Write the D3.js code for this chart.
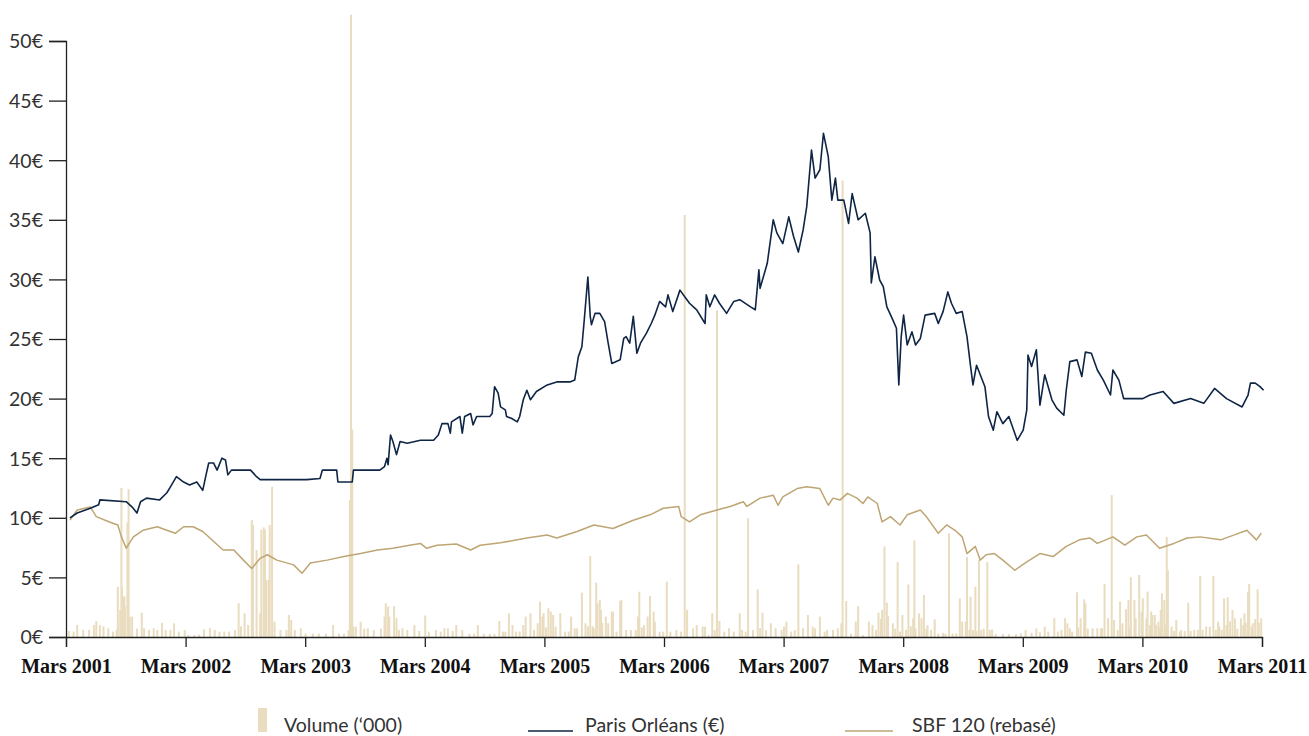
<!DOCTYPE html>
<html><head><meta charset="utf-8">
<script src="https://cdn.jsdelivr.net/npm/d3@7"></script>
<style>
html,body{margin:0;padding:0;background:#fff;}
svg{display:block;}
.ylab{font-family:"Lato","Open Sans",sans-serif;font-weight:400;font-size:19.5px;fill:#333;}
.xlab{font-family:"Liberation Serif","Times New Roman",serif;font-weight:bold;font-size:20px;fill:#111;}
.leg{font-family:"Lato","Open Sans",sans-serif;font-weight:400;font-size:19.5px;fill:#333;}
</style></head>
<body>
<svg id="chart" width="1309" height="736"></svg>
<script>
// ---- Data (decimal years, values in €) ----
const yTickValues = [0,5,10,15,20,25,30,35,40,45,50];
const xTickYears = [2001,2002,2003,2004,2005,2006,2007,2008,2009,2010,2011];

const poDates = [2001.20,2001.26,2001.37,2001.44,2001.45,2001.67,2001.72,2001.76,2001.79,2001.84,2001.95,2002.01,2002.04,2002.09,2002.15,2002.20,2002.26,2002.31,2002.34,2002.36,2002.40,2002.43,2002.47,2002.50,2002.52,2002.55,2002.71,2002.76,2002.79,2002.93,2003.07,2003.18,2003.29,2003.31,2003.43,2003.44,2003.56,2003.57,2003.79,2003.83,2003.85,2003.86,2003.88,2003.90,2003.93,2003.96,2004.02,2004.13,2004.24,2004.28,2004.31,2004.36,2004.38,2004.39,2004.46,2004.48,2004.50,2004.55,2004.57,2004.60,2004.71,2004.73,2004.75,2004.78,2004.80,2004.84,2004.85,2004.89,2004.94,2004.96,2004.99,2005.02,2005.05,2005.10,2005.19,2005.27,2005.38,2005.42,2005.45,2005.48,2005.50,2005.53,2005.55,2005.56,2005.59,2005.63,2005.67,2005.70,2005.73,2005.80,2005.83,2005.85,2005.88,2005.91,2005.94,2005.97,2006.02,2006.06,2006.09,2006.13,2006.18,2006.20,2006.24,2006.30,2006.34,2006.38,2006.44,2006.51,2006.52,2006.55,2006.59,2006.63,2006.69,2006.75,2006.80,2006.89,2006.93,2006.96,2006.97,2007.03,2007.08,2007.11,2007.16,2007.21,2007.25,2007.29,2007.33,2007.36,2007.40,2007.43,2007.47,2007.50,2007.54,2007.57,2007.60,2007.62,2007.67,2007.71,2007.74,2007.79,2007.85,2007.89,2007.90,2007.93,2007.97,2008.00,2008.03,2008.08,2008.11,2008.13,2008.15,2008.17,2008.20,2008.24,2008.27,2008.31,2008.35,2008.43,2008.46,2008.50,2008.54,2008.57,2008.61,2008.66,2008.70,2008.73,2008.75,2008.78,2008.85,2008.88,2008.92,2008.95,2009.00,2009.05,2009.12,2009.17,2009.20,2009.21,2009.24,2009.28,2009.31,2009.35,2009.41,2009.45,2009.51,2009.53,2009.56,2009.62,2009.66,2009.69,2009.74,2009.79,2009.84,2009.90,2009.92,2009.97,2010.01,2010.17,2010.23,2010.34,2010.43,2010.57,2010.68,2010.77,2010.87,2011.00,2011.05,2011.07,2011.11,2011.15,2011.18];
const poValues = [10.0,10.4,10.8,11.1,11.5,11.35,10.9,10.4,11.35,11.65,11.5,12.1,12.6,13.45,13.0,12.75,13.0,12.3,13.7,14.6,14.6,14.0,15.0,14.85,13.6,14.0,14.0,13.45,13.2,13.2,13.2,13.2,13.3,14.0,14.0,13.0,13.0,14.0,14.0,14.3,15.0,14.45,16.95,16.4,15.3,16.4,16.25,16.5,16.5,16.95,17.9,17.9,17.1,18.05,18.5,17.1,18.5,18.75,17.8,18.5,18.5,18.75,21.0,20.45,19.3,19.05,18.5,18.35,18.05,18.5,19.9,20.7,19.9,20.6,21.15,21.4,21.4,21.55,23.5,24.35,26.6,30.2,26.9,26.2,27.15,27.15,26.45,24.65,22.95,23.25,25.05,25.2,24.65,26.9,23.8,24.65,25.5,26.3,27.0,28.15,27.7,28.7,27.3,29.1,28.55,28.0,27.45,26.3,28.7,27.7,28.7,28.0,27.15,28.15,28.3,27.7,27.45,30.8,29.25,31.35,35.0,33.9,33.0,35.25,33.6,32.3,34.15,36.1,40.85,38.5,39.2,42.25,40.3,36.65,38.5,36.65,36.65,34.7,37.2,35.0,35.55,33.9,29.7,31.9,29.95,29.4,27.7,26.6,25.9,21.15,25.2,27.0,24.5,25.6,24.5,25.05,27.0,27.15,26.3,27.3,28.95,28.0,27.15,27.3,25.2,22.7,21.15,22.8,21.0,18.5,17.35,18.9,17.9,18.5,16.5,17.35,19.05,23.65,22.7,24.1,19.45,22.0,19.9,19.2,18.6,20.7,23.1,23.25,21.85,23.9,23.8,22.4,21.55,20.3,22.4,21.55,20.0,20.0,20.3,20.6,19.6,20.0,19.6,20.85,20.0,19.3,20.3,21.3,21.3,21.0,20.7];

const sbfDates = [2001.20,2001.26,2001.37,2001.42,2001.53,2001.60,2001.63,2001.67,2001.73,2001.81,2001.93,2002.01,2002.08,2002.15,2002.23,2002.31,2002.37,2002.48,2002.57,2002.65,2002.72,2002.79,2002.85,2002.93,2003.07,2003.14,2003.21,2003.35,2003.49,2003.63,2003.77,2003.90,2004.04,2004.13,2004.18,2004.27,2004.43,2004.55,2004.63,2004.80,2005.02,2005.19,2005.27,2005.44,2005.58,2005.74,2005.91,2006.05,2006.16,2006.29,2006.31,2006.38,2006.47,2006.61,2006.72,2006.83,2006.86,2006.97,2007.08,2007.12,2007.16,2007.28,2007.36,2007.47,2007.54,2007.58,2007.64,2007.70,2007.78,2007.83,2007.87,2007.95,2007.99,2008.06,2008.14,2008.20,2008.31,2008.36,2008.46,2008.53,2008.60,2008.66,2008.70,2008.77,2008.81,2008.86,2008.93,2009.00,2009.10,2009.20,2009.31,2009.42,2009.53,2009.64,2009.73,2009.79,2009.92,2010.02,2010.12,2010.20,2010.31,2010.43,2010.54,2010.65,2010.82,2010.93,2011.04,2011.12,2011.16];
const sbfValues = [9.8,10.65,10.9,10.1,9.65,9.4,8.4,7.45,8.4,8.95,9.25,8.95,8.7,9.25,9.25,8.85,8.3,7.3,7.3,6.45,5.75,6.6,6.9,6.45,6.05,5.35,6.2,6.45,6.75,7.0,7.3,7.45,7.7,7.85,7.45,7.7,7.8,7.3,7.7,7.9,8.3,8.55,8.3,8.85,9.4,9.1,9.8,10.25,10.8,10.95,10.1,9.65,10.25,10.65,10.95,11.35,10.95,11.65,11.9,11.05,11.75,12.45,12.6,12.45,11.05,11.65,11.5,12.05,11.65,11.2,11.75,11.2,9.65,10.1,9.4,10.25,10.65,10.1,8.7,9.4,8.95,8.4,7.0,7.6,6.45,6.9,7.0,6.45,5.6,6.3,7.0,6.75,7.6,8.15,8.3,7.85,8.4,7.7,8.4,8.55,7.45,7.85,8.3,8.4,8.15,8.55,8.95,8.15,8.7];

const volDates = [2001.19,2001.23,2001.26,2001.31,2001.36,2001.40,2001.42,2001.45,2001.48,2001.52,2001.56,2001.59,2001.60,2001.62,2001.63,2001.635,2001.645,2001.655,2001.66,2001.68,2001.69,2001.70,2001.72,2001.76,2001.80,2001.82,2001.86,2001.90,2001.93,2001.97,2002.00,2002.04,2002.07,2002.11,2002.16,2002.19,2002.24,2002.28,2002.32,2002.37,2002.41,2002.45,2002.49,2002.53,2002.58,2002.61,2002.63,2002.66,2002.69,2002.72,2002.73,2002.76,2002.79,2002.80,2002.82,2002.83,2002.84,2002.86,2002.87,2002.89,2002.91,2002.96,2003.01,2003.03,2003.05,2003.08,2003.13,2003.17,2003.23,2003.28,2003.34,2003.40,2003.45,2003.49,2003.53,2003.54,2003.55,2003.56,2003.57,2003.59,2003.63,2003.66,2003.69,2003.74,2003.80,2003.83,2003.84,2003.86,2003.87,2003.91,2003.93,2003.95,2003.98,2004.02,2004.08,2004.12,2004.17,2004.20,2004.26,2004.30,2004.33,2004.36,2004.40,2004.43,2004.48,2004.54,2004.58,2004.61,2004.66,2004.71,2004.75,2004.79,2004.82,2004.84,2004.87,2004.90,2004.93,2004.96,2004.99,2005.01,2005.05,2005.08,2005.11,2005.13,2005.15,2005.16,2005.18,2005.20,2005.22,2005.24,2005.26,2005.30,2005.34,2005.37,2005.39,2005.42,2005.44,2005.48,2005.51,2005.53,2005.55,2005.57,2005.58,2005.60,2005.61,2005.63,2005.64,2005.65,2005.68,2005.70,2005.73,2005.74,2005.77,2005.80,2005.81,2005.85,2005.89,2005.93,2005.95,2005.96,2005.98,2006.00,2006.03,2006.05,2006.08,2006.09,2006.13,2006.16,2006.19,2006.22,2006.27,2006.31,2006.34,2006.36,2006.41,2006.44,2006.49,2006.51,2006.54,2006.57,2006.59,2006.61,2006.63,2006.67,2006.71,2006.75,2006.80,2006.82,2006.85,2006.87,2006.91,2006.95,2006.97,2006.99,2007.02,2007.06,2007.10,2007.15,2007.17,2007.19,2007.23,2007.26,2007.29,2007.33,2007.37,2007.41,2007.43,2007.47,2007.51,2007.53,2007.58,2007.62,2007.65,2007.66,2007.69,2007.73,2007.77,2007.79,2007.83,2007.88,2007.91,2007.94,2007.96,2007.98,2007.99,2008.01,2008.03,2008.04,2008.08,2008.10,2008.12,2008.14,2008.16,2008.19,2008.21,2008.23,2008.25,2008.26,2008.27,2008.30,2008.32,2008.34,2008.36,2008.37,2008.40,2008.43,2008.46,2008.50,2008.52,2008.55,2008.58,2008.61,2008.64,2008.66,2008.69,2008.70,2008.72,2008.73,2008.75,2008.77,2008.78,2008.80,2008.82,2008.84,2008.87,2008.89,2008.91,2008.94,2009.00,2009.05,2009.11,2009.15,2009.19,2009.24,2009.28,2009.31,2009.35,2009.38,2009.43,2009.46,2009.49,2009.52,2009.54,2009.56,2009.58,2009.62,2009.63,2009.65,2009.68,2009.69,2009.71,2009.75,2009.79,2009.82,2009.83,2009.85,2009.88,2009.91,2009.93,2009.96,2009.98,2010.00,2010.03,2010.05,2010.06,2010.07,2010.10,2010.11,2010.14,2010.16,2010.17,2010.20,2010.21,2010.23,2010.24,2010.25,2010.27,2010.28,2010.30,2010.31,2010.32,2010.33,2010.35,2010.36,2010.37,2010.38,2010.41,2010.43,2010.45,2010.48,2010.49,2010.52,2010.55,2010.57,2010.60,2010.63,2010.65,2010.67,2010.70,2010.73,2010.76,2010.78,2010.80,2010.81,2010.83,2010.85,2010.87,2010.88,2010.90,2010.92,2010.94,2010.96,2010.99,2011.01,2011.02,2011.03,2011.05,2011.06,2011.08,2011.09,2011.11,2011.13,2011.14,2011.16];
const volValues = [0.5,0.45,1.0,0.6,0.6,1.0,1.34,1.0,0.9,0.73,0.45,0.6,4.22,2.27,12.5,4.2,3.4,3.4,2.55,9.6,12.4,1.71,1.71,0.7,2.04,0.73,0.6,0.73,0.6,1.2,0.6,0.6,1.15,0.45,0.6,0.17,0.17,0.2,0.64,0.73,0.59,0.45,0.45,0.45,0.59,2.83,0.9,1.99,1.0,9.8,9.4,7.3,1.99,9.0,9.2,9.0,4.8,4.8,9.4,12.6,1.29,0.59,0.59,1.85,1.43,0.59,0.73,0.28,0.28,0.28,0.28,1.0,0.28,0.28,0.59,11.5,52.2,17.4,0.87,0.87,1.29,0.7,0.73,0.59,0.7,1.71,2.83,2.55,1.71,2.6,1.57,0.6,0.73,0.59,1.0,0.5,1.8,0.45,0.59,0.45,0.73,0.73,0.5,1.0,0.59,0.28,0.28,1.0,0.25,0.25,0.25,1.34,0.45,0.45,1.99,1.0,0.45,0.45,1.0,1.71,1.99,0.59,1.15,2.97,1.71,1.99,0.8,2.4,2.13,1.85,0.87,1.99,0.45,0.45,1.71,0.73,0.73,3.72,1.15,0.9,6.8,0.9,0.73,4.56,2.83,3.1,2.27,1.2,1.71,1.15,2.13,2.13,0.45,3.02,3.1,0.59,0.59,0.59,1.71,3.8,0.8,1.0,1.71,3.44,2.13,1.29,0.45,0.45,4.64,0.45,0.59,0.45,35.4,2.27,0.73,1.0,0.87,0.87,0.17,1.99,0.59,27.4,1.34,0.45,0.73,0.45,1.99,0.59,0.45,9.95,0.59,4.0,0.73,2.04,0.59,1.15,0.73,0.59,0.87,1.29,0.45,0.59,6.1,0.73,1.85,0.87,0.73,1.71,0.45,0.59,0.59,0.73,1.15,38.3,3.02,0.28,1.29,2.6,0.17,1.29,1.0,0.6,2.04,1.5,2.27,7.6,2.88,1.76,1.15,0.7,6.3,0.45,1.85,0.6,4.4,0.9,1.57,8.1,0.7,1.99,1.57,3.52,0.7,1.0,0.6,1.48,0.28,0.35,0.28,8.7,0.28,0.3,3.24,1.29,1.29,6.7,0.6,3.38,0.6,4.22,0.5,6.45,0.59,0.7,6.3,0.6,0.64,0.25,0.25,0.25,0.25,0.3,0.59,0.35,0.73,0.4,0.87,0.45,1.57,0.45,0.6,1.57,1.15,0.73,0.45,3.75,0.8,1.57,3.16,2.83,0.7,0.73,0.73,0.73,0.73,4.45,1.57,11.9,1.43,0.6,2.97,1.15,2.32,3.1,0.8,5.01,3.1,1.57,5.2,2.13,3.24,1.57,3.8,1.0,2.13,1.85,1.85,1.0,1.29,0.8,2.27,3.66,3.1,1.0,8.4,5.6,0.87,0.5,1.43,0.45,0.59,0.5,2.88,0.5,0.59,0.6,5.12,0.6,0.87,0.87,5.12,0.6,1.29,0.87,0.6,3.24,1.0,3.33,1.3,2.27,1.57,0.7,1.57,1.0,1.99,1.2,3.8,4.45,0.9,1.15,1.5,4.0,1.2,1.57];

const seriesNames = ["Volume (\u2018000)", "Paris Orl\u00e9ans (\u20ac)", "SBF 120 (rebas\u00e9)"];
const colors = {vol:"#e9dcbf", po:"#0f2545", sbf:"#bea574", axis:"#222"};

// ---- Chart ----
const svg = d3.select("#chart");
const m0 = 2001 + 2/12;
const x = d3.scaleLinear().domain([m0, m0 + 10]).range([66, 1262]);
const y = d3.scaleLinear().domain([0, 50]).range([637, 41]);

// Volume bars
svg.append("g").selectAll("rect").data(volDates.map((d,i)=>({d, v:volValues[i]})))
  .join("rect")
  .attr("x", p => x(p.d) - 1)
  .attr("width", 2)
  .attr("y", p => y(p.v))
  .attr("height", p => y(0) - y(p.v))
  .attr("fill", colors.vol);

const line = d3.line().x(p => x(p[0])).y(p => y(p[1]));
svg.append("path").datum(sbfDates.map((d,i)=>[d, sbfValues[i]]))
  .attr("d", line).attr("fill","none").attr("stroke", colors.sbf).attr("stroke-width",1.5).attr("stroke-linejoin","round");
svg.append("path").datum(poDates.map((d,i)=>[d, poValues[i]]))
  .attr("d", line).attr("fill","none").attr("stroke", colors.po).attr("stroke-width",1.6).attr("stroke-linejoin","round");

// Y axis
const yAxis = d3.axisLeft(y).tickValues(yTickValues).tickSize(17).tickPadding(6).tickFormat(d => d + "\u20ac");
const gy = svg.append("g").attr("transform","translate(66,0)").call(yAxis);
gy.select(".domain").attr("stroke", colors.axis).attr("stroke-width",1.3);
gy.selectAll(".tick line").attr("stroke", colors.axis).attr("stroke-width",1.3);
gy.selectAll(".tick text").attr("class","ylab").attr("dy","0.35em");

// X axis
const xAxis = d3.axisBottom(x).tickValues(xTickYears.map(yr => yr + 2/12)).tickSize(10).tickPadding(12)
  .tickFormat((d,i) => "Mars " + xTickYears[i]);
const gx = svg.append("g").attr("transform","translate(0,637)").call(xAxis);
gx.select(".domain").attr("stroke", colors.axis).attr("stroke-width",1.3);
gx.selectAll(".tick line").attr("stroke", colors.axis).attr("stroke-width",1.3);
gx.selectAll(".tick text").attr("class","xlab").attr("dy","0.71em");

// Legend
const lg = svg.append("g");
lg.append("rect").attr("x",258).attr("y",708).attr("width",9).attr("height",24).attr("fill",colors.vol);
lg.append("text").attr("class","leg").attr("x",284).attr("y",732).text(seriesNames[0]);
lg.append("line").attr("x1",528).attr("x2",573).attr("y1",731).attr("y2",731).attr("stroke",colors.po).attr("stroke-width",1.5);
lg.append("text").attr("class","leg").attr("x",585).attr("y",732).text(seriesNames[1]);
lg.append("line").attr("x1",845).attr("x2",893).attr("y1",731).attr("y2",731).attr("stroke",colors.sbf).attr("stroke-width",1.5);
lg.append("text").attr("class","leg").attr("x",912).attr("y",732).text(seriesNames[2]);
</script>
</body></html>
